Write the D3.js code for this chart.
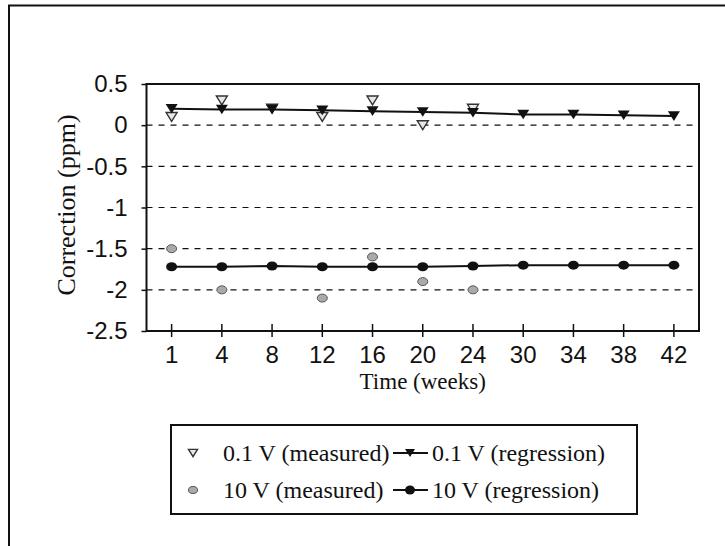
<!DOCTYPE html>
<html><head><meta charset="utf-8">
<script src="https://cdn.jsdelivr.net/npm/d3@7"></script>
<style>html,body{margin:0;padding:0;background:#fff;}</style>
</head><body>
<svg id="c" width="725" height="546"></svg>
<script>
const weeks = ["1","4","8","12","16","20","24","30","34","38","42"];
const yTicks = [0.5, 0, -0.5, -1, -1.5, -2, -2.5];
const yTickLabels = ["0.5","0","-0.5","-1","-1.5","-2","-2.5"];
const lowMeasured = [0.1, 0.3, 0.2, 0.1, 0.3, 0.0, 0.2];            // 0.1 V measured (weeks 1..24)
const lowRegression = [0.2, 0.19, 0.19, 0.18, 0.17, 0.16, 0.15, 0.13, 0.13, 0.12, 0.11];
const highMeasured = [-1.5, -2.0, null, -2.1, -1.6, -1.9, -2.0];     // 10 V measured
const highRegression = [-1.72, -1.72, -1.71, -1.72, -1.72, -1.72, -1.71, -1.70, -1.70, -1.70, -1.70];
const legendLabels = ["0.1 V (measured)", "0.1 V (regression)", "10 V (measured)", "10 V (regression)"];

const svg = d3.select("#c");
const L = 146.5, R = 699, T = 84, B = 331;
const x = d3.scaleBand().domain(weeks).range([L, R]).padding(0);
const cx = w => x(w) + x.bandwidth() / 2;
const y = d3.scaleLinear().domain([-2.5, 0.5]).range([B, T]);
const sans = "'Liberation Sans', Arial, sans-serif";
const serif = "'Liberation Serif', 'Times New Roman', serif";

// outer frame
svg.append("path").attr("d", "M9,546 V5.5 H725").attr("fill", "none").attr("stroke", "#111").attr("stroke-width", 2);

// dashed gridlines
svg.append("g").selectAll("line").data(yTicks.filter(v => v < 0.5 && v > -2.5)).join("line")
  .attr("x1", L).attr("x2", R).attr("y1", d => y(d)).attr("y2", d => y(d))
  .attr("stroke", "#111").attr("stroke-width", 1.2).attr("stroke-dasharray", "6,6");

// plot frame
svg.append("rect").attr("x", L).attr("y", T).attr("width", R - L).attr("height", B - T)
  .attr("fill", "none").attr("stroke", "#111").attr("stroke-width", 2);

// y axis
const yAxis = d3.axisLeft(y).tickValues(yTicks).tickSize(5).tickPadding(14)
  .tickFormat(d => yTickLabels[yTicks.indexOf(d)]);
const gy = svg.append("g").attr("transform", `translate(${L},0)`).call(yAxis);
gy.select(".domain").remove();
gy.selectAll("line").attr("stroke", "#111").attr("stroke-width", 1.5);
gy.selectAll("text").attr("font-family", sans).attr("font-size", 24).attr("fill", "#111");

// x axis
const xAxis = d3.axisBottom(x).tickSize(6).tickPadding(9);
const gx = svg.append("g").attr("transform", `translate(0,${B})`).call(xAxis);
gx.select(".domain").remove();
gx.selectAll("line").attr("y1", -7).attr("y2", 6).attr("stroke", "#111").attr("stroke-width", 1.5);
gx.selectAll("text").attr("font-family", sans).attr("font-size", 24).attr("fill", "#111");

// axis titles
svg.append("text").attr("x", (L + R) / 2).attr("y", 389).attr("text-anchor", "middle")
  .attr("font-family", serif).attr("font-size", 23).attr("fill", "#111").text("Time (weeks)");
svg.append("text").attr("transform", "translate(75,205) rotate(-90)").attr("text-anchor", "middle")
  .attr("font-family", serif).attr("font-size", 26).attr("fill", "#111").text("Correction (ppm)");

const tri = (s) => `M${-s},${-s*0.8} L${s},${-s*0.8} L0,${s*0.8} Z`;

// regression lines
const line = d3.line().x((d, i) => cx(weeks[i])).y(d => y(d));
svg.append("path").attr("d", line(lowRegression)).attr("fill", "none").attr("stroke", "#111").attr("stroke-width", 2);
svg.append("path").attr("d", line(highRegression)).attr("fill", "none").attr("stroke", "#111").attr("stroke-width", 2);

// measured markers
svg.append("g").selectAll("path").data(lowMeasured).join("path")
  .attr("transform", (d, i) => `translate(${cx(weeks[i])},${y(d)})`)
  .attr("d", tri(5.5)).attr("fill", "#e8e8e8").attr("stroke", "#333").attr("stroke-width", 1.4);
svg.append("g").selectAll("ellipse").data(highMeasured.map((v, i) => ({v, i})).filter(d => d.v !== null)).join("ellipse")
  .attr("cx", d => cx(weeks[d.i])).attr("cy", d => y(d.v)).attr("rx", 5).attr("ry", 4)
  .attr("fill", "#aaa").attr("stroke", "#555").attr("stroke-width", 1);

// regression markers
svg.append("g").selectAll("path").data(lowRegression).join("path")
  .attr("transform", (d, i) => `translate(${cx(weeks[i])},${y(d)})`)
  .attr("d", tri(6)).attr("fill", "#111");
svg.append("g").selectAll("ellipse").data(highRegression).join("ellipse")
  .attr("cx", (d, i) => cx(weeks[i])).attr("cy", d => y(d)).attr("rx", 5.5).attr("ry", 4.5).attr("fill", "#111");

// legend
const lg = svg.append("g");
lg.append("rect").attr("x", 171).attr("y", 425).attr("width", 466).attr("height", 89)
  .attr("fill", "#fff").attr("stroke", "#111").attr("stroke-width", 2);
const rows = [453, 490];
lg.append("path").attr("transform", `translate(193,${rows[0]})`).attr("d", tri(4.5))
  .attr("fill", "#e8e8e8").attr("stroke", "#333").attr("stroke-width", 1.4);
lg.append("ellipse").attr("cx", 193).attr("cy", rows[1]).attr("rx", 4.5).attr("ry", 3.5)
  .attr("fill", "#aaa").attr("stroke", "#555");
[0, 1].forEach(r => {
  lg.append("line").attr("x1", 393).attr("x2", 428).attr("y1", rows[r]).attr("y2", rows[r]).attr("stroke", "#111").attr("stroke-width", 2);
});
lg.append("path").attr("transform", `translate(410,${rows[0]})`).attr("d", tri(5)).attr("fill", "#111");
lg.append("ellipse").attr("cx", 410).attr("cy", rows[1]).attr("rx", 5).attr("ry", 4.5).attr("fill", "#111");
const lpos = [[223, rows[0]], [432, rows[0]], [223, rows[1]], [432, rows[1]]];
lg.selectAll("text.l").data(legendLabels).join("text")
  .attr("x", (d, i) => lpos[i][0]).attr("y", (d, i) => lpos[i][1]).attr("dy", "0.35em")
  .attr("font-family", serif).attr("font-size", 24).attr("fill", "#111").text(d => d);
</script>
</body></html>
